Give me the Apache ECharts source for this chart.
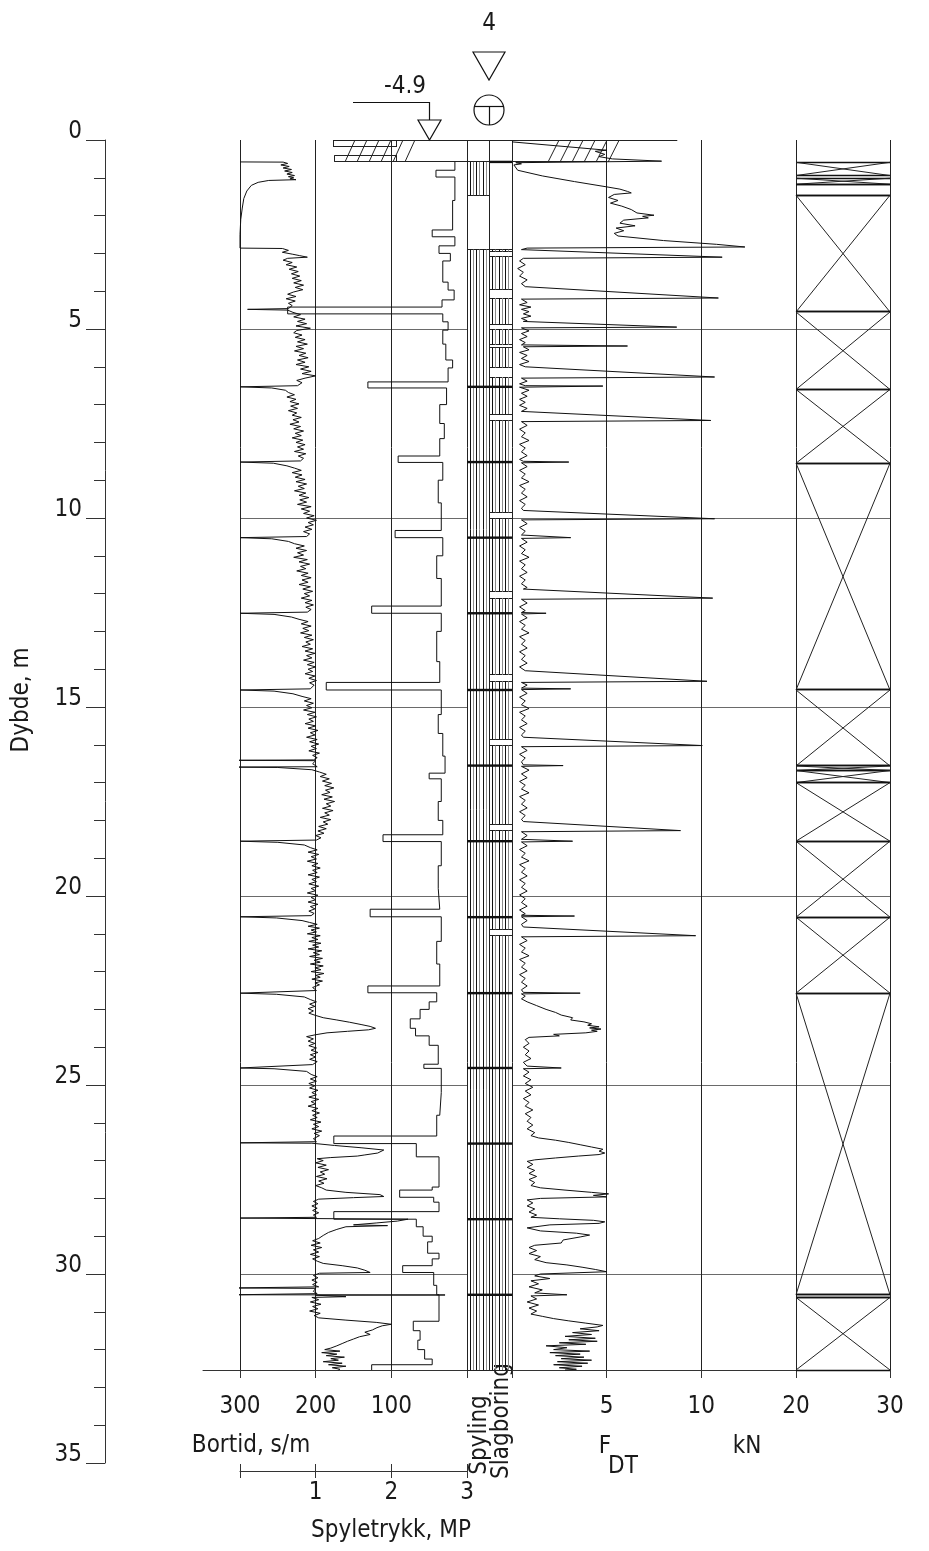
<!DOCTYPE html>
<html><head><meta charset="utf-8">
<script src="https://cdn.jsdelivr.net/npm/echarts@6/dist/echarts.min.js"></script>
<style>html,body{margin:0;padding:0;background:#fff}#c{width:929px;height:1551px}</style>
</head><body><div id="c"></div>
<script>
// ---------------- DATA ----------------
// Bortid (penetration time), pairs [depth m, s/m]
const bortidTrace = [
[0.58,300],[0.585,243],[0.62,237],[0.66,246],[0.7,235],[0.74,243],[0.78,232],[0.82,241],[0.86,231],[0.9,238],[0.94,228],[0.97,236],[1.0,229],[1.03,234],[1.05,226],[1.07,262],[1.12,276],[1.2,285],[1.35,291],[1.55,295],[1.8,297],[2.1,299],[2.5,300],[2.86,300],
[2.87,244],[2.92,236],[2.97,244],[3.02,231],[3.06,221],[3.1,211],[3.13,237],[3.18,243],[3.24,231],[3.3,239],[3.36,225],[3.42,235],[3.48,223],[3.54,232],[3.6,221],[3.66,231],[3.72,219],[3.78,229],[3.84,216],[3.9,227],[3.96,217],[4.02,229],[4.08,237],[4.14,226],[4.2,239],[4.26,227],[4.32,236],[4.38,231],[4.46,236],[4.48,290],[4.5,237],
[4.56,230],[4.62,220],[4.68,229],[4.74,214],[4.8,224],[4.86,212],[4.92,226],[4.98,207],[5.04,225],[5.1,229],[5.16,218],[5.22,227],[5.28,214],[5.34,224],[5.4,211],[5.46,226],[5.52,216],[5.58,228],[5.64,213],[5.7,222],[5.76,210],[5.82,224],[5.88,214],[5.94,226],[6.0,209],[6.06,220],[6.12,206],[6.18,218],[6.24,200],[6.3,214],[6.36,225],[6.42,218],[6.5,224],
[6.53,300],[6.56,258],[6.62,240],
[6.68,236],[6.74,228],[6.8,238],[6.86,226],[6.92,234],[6.98,222],[7.04,233],[7.1,224],[7.16,236],[7.22,225],[7.28,231],[7.34,219],[7.4,230],[7.46,222],[7.52,234],[7.58,220],[7.64,229],[7.7,216],[7.76,227],[7.82,219],[7.88,231],[7.94,217],[8.0,226],[8.06,214],[8.12,224],[8.18,216],[8.24,228],[8.3,213],[8.36,223],[8.42,216],[8.49,220],
[8.52,300],[8.55,256],[8.62,238],
[8.68,228],[8.74,219],[8.8,231],[8.86,218],[8.92,227],[8.98,214],[9.04,226],[9.1,212],[9.16,223],[9.22,215],[9.28,228],[9.34,213],[9.4,222],[9.46,209],[9.52,221],[9.58,212],[9.64,224],[9.7,206],[9.76,219],[9.82,208],[9.88,216],[9.94,202],[10.0,212],[10.06,199],[10.12,210],[10.18,203],[10.24,214],[10.3,205],[10.36,216],[10.42,208],[10.49,212],
[10.52,300],[10.55,258],[10.62,236],
[10.68,228],[10.74,215],[10.8,226],[10.86,212],[10.92,224],[10.98,216],[11.04,229],[11.1,211],[11.16,222],[11.22,208],[11.28,220],[11.34,213],[11.4,225],[11.46,210],[11.52,219],[11.58,206],[11.64,218],[11.7,210],[11.76,222],[11.82,207],[11.88,217],[11.94,204],[12.0,215],[12.06,208],[12.12,219],[12.18,205],[12.24,214],[12.3,203],[12.36,213],[12.42,206],[12.49,211],
[12.52,300],[12.55,255],[12.62,232],
[12.68,222],[12.74,210],[12.8,219],[12.86,206],[12.92,217],[12.98,209],[13.04,220],[13.1,205],[13.16,215],[13.22,203],[13.28,213],[13.34,207],[13.4,218],[13.46,204],[13.52,214],[13.58,201],[13.64,212],[13.7,205],[13.76,216],[13.82,202],[13.88,211],[13.94,200],[14.0,210],[14.06,204],[14.12,214],[14.18,201],[14.24,209],[14.3,199],[14.36,208],[14.42,202],[14.52,207],
[14.55,300],[14.58,255],[14.65,230],
[14.72,218],[14.78,206],[14.84,215],[14.9,203],[14.96,212],[15.02,205],[15.08,216],[15.14,201],[15.2,211],[15.26,199],[15.32,209],[15.38,203],[15.44,214],[15.5,200],[15.56,210],[15.62,197],[15.68,207],[15.74,201],[15.8,212],[15.86,198],[15.92,208],[15.98,196],[16.04,206],[16.1,199],[16.16,209],[16.22,195],[16.28,204],[16.34,198],[16.4,203],
[16.41,310],[16.42,200],[16.5,204],[16.58,198],[16.59,310],[16.6,250],[16.66,205],
[16.72,195],[16.78,186],[16.84,194],[16.9,182],[16.96,191],[17.02,179],[17.08,188],[17.14,176],[17.2,187],[17.26,181],[17.32,192],[17.38,178],[17.44,189],[17.5,175],[17.56,186],[17.62,180],[17.68,191],[17.74,177],[17.8,188],[17.86,182],[17.92,194],[17.98,180],[18.04,190],[18.1,184],[18.16,196],[18.22,186],[18.28,197],[18.34,189],[18.4,200],[18.46,193],[18.52,199],
[18.55,300],[18.58,250],[18.65,215],
[18.72,207],[18.78,198],[18.84,210],[18.9,196],[18.96,206],[19.02,199],[19.08,211],[19.14,197],[19.2,205],[19.26,194],[19.32,204],[19.38,198],[19.44,210],[19.5,195],[19.56,205],[19.62,199],[19.68,209],[19.74,196],[19.8,206],[19.86,200],[19.92,211],[19.98,197],[20.04,206],[20.1,200],[20.16,210],[20.22,197],[20.28,207],[20.34,201],[20.4,209],[20.46,202],[20.52,206],
[20.55,300],[20.58,252],[20.65,218],
[20.7,208],[20.75,198],[20.8,210],[20.85,195],[20.9,206],[20.95,199],[21.0,211],[21.05,194],[21.1,205],[21.15,197],[21.2,209],[21.25,193],[21.3,204],[21.35,196],[21.4,210],[21.45,192],[21.5,203],[21.55,195],[21.6,208],[21.65,191],[21.7,202],[21.75,194],[21.8,207],[21.85,190],[21.9,201],[21.95,193],[22.0,206],[22.05,189],[22.1,200],[22.15,194],[22.2,205],[22.25,191],[22.3,201],[22.35,195],[22.42,204],[22.5,199],
[22.57,300],[22.6,252],[22.67,215],
[22.74,207],[22.8,199],[22.86,208],[22.92,201],[22.98,210],[23.04,203],[23.1,209],[23.16,200],[23.22,190],[23.28,172],[23.34,155],[23.4,140],[23.45,128],[23.5,121],[23.54,130],[23.58,158],[23.62,185],[23.67,200],[23.72,212],[23.78,203],[23.84,210],[23.9,201],[23.96,209],[24.02,199],[24.08,206],[24.14,197],[24.2,207],[24.26,200],[24.32,208],[24.38,198],[24.46,204],
[24.55,300],[24.57,255],[24.64,212],
[24.72,206],[24.78,198],[24.84,207],[24.9,199],[24.96,209],[25.02,201],[25.08,208],[25.14,197],[25.2,205],[25.26,199],[25.32,209],[25.38,196],[25.44,206],[25.5,200],[25.56,210],[25.62,197],[25.68,205],[25.74,195],[25.8,204],[25.86,198],[25.92,207],[25.98,193],[26.04,203],[26.1,196],[26.16,205],[26.22,192],[26.28,202],[26.34,195],[26.42,203],[26.5,199],
[26.53,300],[26.54,205],[26.6,175],[26.66,140],[26.72,110],[26.76,108],[26.8,118],[26.85,135],[26.88,145],[26.92,180],[26.95,198],
[27.0,190],[27.06,200],[27.12,186],[27.18,197],[27.24,183],[27.3,194],[27.36,188],[27.42,199],[27.48,185],[27.54,196],[27.6,189],[27.66,200],[27.72,192],[27.78,186],[27.84,160],[27.9,115],[27.95,110],[27.98,150],[28.02,196],
[28.08,203],[28.14,197],[28.2,205],[28.26,198],[28.32,204],[28.38,196],[28.44,203],[28.5,199],
[28.52,300],[28.55,78],[28.6,92],[28.65,120],[28.7,150],[28.72,105],[28.75,160],[28.82,172],[28.9,183],[28.98,190],[29.06,196],
[29.12,204],[29.18,194],[29.24,206],[29.3,192],[29.36,203],[29.42,196],[29.48,207],[29.54,195],[29.6,204],[29.66,198],[29.72,190],[29.78,165],[29.84,145],[29.9,135],[29.96,128],[29.98,195],
[30.04,203],[30.1,197],[30.16,205],[30.22,198],[30.28,204],[30.34,196],[30.37,310],[30.38,200],[30.46,203],[30.52,198],[30.55,310],[30.555,29],[30.56,200],[30.6,160],[30.62,205],
[30.68,196],[30.74,207],[30.8,193],[30.86,204],[30.92,197],[30.98,208],[31.04,194],[31.1,202],[31.16,196],[31.22,160],[31.28,120],[31.33,100],[31.37,112],[31.42,119],[31.48,125],[31.54,135],[31.6,128],[31.66,142],[31.72,150],[31.78,158],[31.84,165],[31.9,172],[31.96,180],
[32.0,188],[32.04,168],[32.08,192],[32.12,172],[32.16,186],[32.2,162],[32.24,180],[32.28,170],[32.32,190],[32.36,165],[32.4,183],[32.44,160],[32.48,178],[32.52,168],[32.54,170]
];

// Spyletrykk (flushing pressure, MPa): step starts (depth) and values
const spyleDepth = [0.58,0.8,0.98,1.6,2.38,2.56,2.8,3.0,3.2,3.76,3.97,4.23,4.42,4.6,4.81,5.03,5.4,5.82,6.03,6.4,6.56,7.0,7.5,7.9,8.36,8.53,9.0,9.6,10.33,10.52,11.0,11.6,12.33,12.52,13.0,13.8,14.35,14.55,15.2,15.7,16.3,16.75,16.9,17.5,18.0,18.38,18.56,19.2,19.8,20.35,20.55,21.2,21.8,22.38,22.56,22.8,23.0,23.25,23.5,23.7,23.95,24.45,24.56,25.2,25.8,26.35,26.55,26.9,27.7,27.78,27.97,28.1,28.35,28.55,28.75,29.0,29.15,29.45,29.6,29.78,29.96,30.3,30.55,31.25,31.5,31.75,32.0,32.25,32.4];
const spyleValue = [2.84,2.59,2.84,2.81,2.54,2.84,2.63,2.78,2.68,2.75,2.83,2.67,0.63,2.68,2.75,2.68,2.72,2.81,2.75,1.69,2.73,2.64,2.7,2.64,2.09,2.68,2.62,2.66,2.05,2.68,2.6,2.66,1.74,2.66,2.6,2.64,1.14,2.66,2.62,2.68,2.71,2.5,2.66,2.62,2.68,1.89,2.66,2.62,2.64,1.72,2.66,2.6,2.64,1.69,2.6,2.5,2.38,2.25,2.32,2.5,2.62,2.43,2.66,2.64,2.6,1.24,2.33,2.63,2.54,2.11,2.56,2.63,1.24,2.33,2.42,2.54,2.48,2.63,2.54,2.15,2.56,2.6,2.63,2.29,2.38,2.35,2.44,2.54,1.74];

// F_DT (kN), pairs [depth m, kN]
const fdtTrace = [
[0.05,0],[0.27,5.0],[0.3,4.4],[0.34,4.3],[0.38,4.9],[0.44,4.6],[0.5,5.3],[0.56,7.9],[0.58,7.9],[0.6,0.2],[0.63,0.5],[0.66,0.1],[0.8,0.3],[0.95,1.6],[1.1,3.3],[1.24,5.0],[1.3,5.7],[1.36,6.1],[1.4,6.3],[1.44,5.4],[1.52,5.1],[1.6,5.6],[1.67,5.2],[1.75,5.8],[1.84,6.3],[1.93,6.6],[1.99,7.5],[2.02,6.9],[2.06,7.2],[2.12,5.9],[2.2,5.7],[2.27,6.5],[2.33,5.5],[2.4,5.9],[2.47,5.4],[2.54,5.6],[2.66,8.0],[2.76,10.8],[2.83,12.3],[2.86,0.8],
[2.9,0.5],[3.1,11.1],[3.13,0.6],
[3.2,0.4],[3.3,0.7],[3.4,0.3],[3.5,0.6],[3.6,0.4],[3.7,0.8],[3.8,0.5],[3.88,0.7],
[3.9,0.6],[4.18,10.9],[4.21,0.5],
[4.3,0.8],[4.36,0.4],[4.42,1.0],[4.48,0.5],[4.54,0.9],[4.6,0.6],[4.66,1.0],[4.72,0.5],[4.78,0.8],
[4.8,0.6],[4.95,8.7],[4.97,0.5],
[5.05,0.9],[5.12,0.5],[5.2,0.8],[5.28,0.4],[5.36,0.7],[5.42,0.5],[5.45,6.1],[5.47,0.6],[5.55,0.9],[5.62,0.4],[5.7,0.8],[5.78,0.5],[5.86,0.9],[5.94,0.4],[6.0,0.7],
[6.02,0.6],[6.27,10.7],[6.3,0.5],
[6.38,0.8],[6.45,0.4],[6.5,0.7],[6.51,4.8],[6.54,0.4],[6.62,0.9],[6.7,0.5],[6.78,0.8],[6.86,0.4],[6.94,0.7],[7.02,0.4],[7.1,0.8],[7.18,0.5],
[7.2,0.6],[7.42,10.5],[7.45,0.5],
[7.55,0.8],[7.65,0.4],[7.75,0.7],[7.85,0.5],[7.95,0.9],[8.05,0.4],[8.15,0.7],[8.25,0.5],[8.35,0.8],[8.45,0.4],[8.5,0.6],[8.52,3.0],[8.54,0.5],
[8.64,0.8],[8.74,0.4],[8.84,0.7],[8.94,0.5],[9.04,0.9],[9.14,0.4],[9.24,0.7],[9.34,0.5],[9.44,0.8],[9.54,0.4],[9.64,0.7],[9.74,0.5],
[9.8,0.6],[10.02,10.7],[10.05,0.5],
[10.15,0.8],[10.25,0.4],[10.35,0.7],[10.45,0.5],[10.5,0.6],[10.52,3.1],[10.54,0.5],
[10.64,0.8],[10.74,0.4],[10.84,0.7],[10.94,0.5],[11.04,0.9],[11.14,0.4],[11.24,0.7],[11.34,0.5],[11.44,0.8],[11.54,0.4],[11.64,0.7],[11.74,0.5],[11.84,0.8],
[11.88,0.6],[12.12,10.6],[12.15,0.5],
[12.25,0.8],[12.35,0.4],[12.45,0.7],[12.5,0.5],[12.52,1.8],[12.54,0.5],
[12.64,0.8],[12.74,0.4],[12.84,0.7],[12.94,0.5],[13.04,0.9],[13.14,0.4],[13.24,0.7],[13.34,0.5],[13.44,0.8],[13.54,0.4],[13.64,0.7],[13.74,0.5],[13.84,0.8],[13.94,0.4],[14.04,0.7],
[14.08,0.6],[14.32,10.3],[14.35,0.5],
[14.42,0.8],[14.5,0.5],[14.52,3.1],[14.54,0.5],
[14.64,0.8],[14.74,0.4],[14.84,0.7],[14.94,0.5],[15.04,0.9],[15.14,0.4],[15.24,0.7],[15.34,0.5],[15.44,0.8],[15.54,0.4],[15.64,0.7],[15.74,0.5],
[15.8,0.6],[16.02,10.05],[16.05,0.5],
[16.15,0.8],[16.25,0.4],[16.35,0.7],[16.45,0.5],[16.53,0.6],[16.55,2.7],[16.57,0.5],
[16.67,0.9],[16.77,0.5],[16.87,0.8],[16.97,0.4],[17.07,0.7],[17.17,0.5],[17.27,0.9],[17.37,0.4],[17.47,0.7],[17.57,0.5],[17.67,0.8],[17.77,0.4],[17.87,0.7],[17.97,0.5],
[18.03,0.6],[18.27,8.9],[18.3,0.5],
[18.4,0.8],[18.5,0.5],[18.55,3.2],[18.57,0.5],
[18.67,0.8],[18.77,0.4],[18.87,0.7],[18.97,0.5],[19.07,0.9],[19.17,0.4],[19.27,0.7],[19.37,0.5],[19.47,0.8],[19.57,0.4],[19.67,0.7],[19.77,0.5],[19.87,0.8],[19.97,0.4],[20.07,0.7],[20.17,0.5],[20.27,0.8],[20.37,0.4],[20.47,0.7],[20.51,0.5],[20.53,3.3],[20.55,0.5],
[20.65,0.8],[20.75,0.5],
[20.82,0.6],[21.05,9.7],[21.08,0.5],
[21.18,0.8],[21.28,0.4],[21.38,0.7],[21.48,0.5],[21.58,0.9],[21.68,0.4],[21.78,0.7],[21.88,0.5],[21.98,0.8],[22.08,0.4],[22.18,0.7],[22.28,0.5],[22.38,0.8],[22.48,0.5],[22.55,0.6],[22.57,3.6],[22.59,0.5],
[22.65,0.7],[22.72,0.5],[22.8,0.8],[22.9,1.3],[23.0,1.8],[23.08,2.3],[23.15,2.6],[23.22,3.2],[23.28,3.1],[23.33,3.8],[23.38,4.2],[23.42,4.0],[23.46,4.6],[23.49,4.1],[23.52,4.7],[23.55,4.2],[23.58,4.5],[23.62,3.9],[23.66,2.2],[23.7,2.5],[23.74,0.9],[23.8,0.7],[23.9,0.9],[24.0,0.6],[24.1,0.9],[24.2,0.7],[24.3,1.0],[24.4,0.6],[24.5,0.8],[24.55,2.6],[24.57,0.6],
[24.66,0.9],[24.76,0.6],[24.86,1.0],[24.96,0.7],[25.06,1.1],[25.16,0.7],[25.26,1.0],[25.36,0.6],[25.46,0.9],[25.56,0.7],[25.66,1.1],[25.76,0.7],[25.86,1.0],[25.96,0.8],[26.06,1.1],[26.16,0.8],[26.26,1.2],[26.34,1.0],
[26.4,1.4],[26.46,2.3],[26.52,3.0],[26.58,3.6],[26.64,4.2],[26.7,4.8],[26.75,4.6],[26.8,4.9],[26.84,4.6],[26.88,3.5],[26.93,2.3],[26.98,1.2],[27.02,0.8],
[27.1,1.1],[27.18,0.8],[27.26,1.2],[27.34,0.9],[27.42,1.3],[27.5,0.9],[27.58,1.2],[27.66,1.0],[27.72,1.5],[27.78,2.8],[27.84,4.2],[27.88,5.1],[27.92,4.3],[27.96,5.0],[28.0,1.5],[28.04,0.8],
[28.12,1.1],[28.2,0.8],[28.28,1.2],[28.36,0.9],[28.44,1.3],[28.5,1.0],[28.54,2.5],[28.58,4.3],[28.62,4.9],[28.66,4.6],[28.7,2.0],[28.78,0.8],[28.86,1.5],[28.92,3.4],[28.97,4.1],[29.02,3.6],[29.1,2.7],[29.18,2.6],[29.24,1.2],[29.3,0.9],
[29.38,1.3],[29.46,0.9],[29.54,1.5],[29.62,1.2],[29.7,1.8],[29.76,2.9],[29.82,3.7],[29.88,4.4],[29.94,5.0],[29.97,5.1],[30.0,1.5],[30.05,1.2],[30.12,2.0],[30.18,1.0],[30.26,1.4],[30.34,0.9],[30.42,1.6],[30.5,1.2],[30.55,2.9],[30.58,1.0],
[30.66,1.3],[30.74,0.8],[30.82,1.4],[30.9,0.9],[30.98,1.3],[31.06,1.0],[31.12,1.6],[31.18,2.2],[31.24,3.0],[31.3,3.9],[31.36,4.8],[31.4,4.5],[31.45,3.6],[31.5,4.6],[31.55,3.2],[31.6,4.2],[31.65,2.8],[31.7,4.4],[31.74,3.0],[31.78,4.5],[31.82,2.5],[31.86,3.9],[31.9,1.8],[31.95,2.9],[32.0,2.2],[32.04,4.1],[32.08,2.0],[32.12,3.6],[32.16,2.3],[32.2,3.8],[32.24,2.6],[32.28,4.2],[32.32,2.4],[32.36,4.0],[32.4,2.2],[32.44,3.7],[32.48,2.5],[32.52,3.4],[32.54,2.8]
];

// Spyling / Slagboring active intervals [from, to] (m) and rod joints
const spylingOn = [[0.58,1.46],[2.9,32.54]];
const slagOn = [[2.9,2.95],[3.08,3.95],[4.18,4.87],[5.0,5.42],[5.5,6.02],[6.27,7.25],[7.42,9.85],[10.02,11.95],[12.12,14.15],[14.32,15.85],[16.02,18.1],[18.27,20.88],[21.05,32.54]];
const rodJoints = [6.53,8.52,10.52,12.52,14.55,16.55,18.55,20.56,22.57,24.55,26.55,28.55,30.55];

// Right strip intervals [from, to, cross 1/0]
const stripIntervals = [[0.59,0.94,1],[1.01,1.17,1],[1.17,1.46,0],[1.46,4.55,1],[4.55,6.6,1],[6.6,8.55,1],[8.55,14.55,1],[14.55,16.56,1],[16.56,16.68,1],[16.68,17.0,1],[17.0,18.55,1],[18.55,20.56,1],[20.56,22.57,1],[22.57,30.55,1],[30.55,30.62,0],[30.62,32.54,1]];

// Pre-bored hatch zone (0 - 0.58 m): segments [x0, depth0, x1, depth1]
const hatchLeft = [ // x in MPa units
[1.23,0,3.0,0],[1.23,0,1.23,0.185],[1.23,0.185,2.07,0.185],[2.07,0.185,2.07,0],
[1.255,0.4,2.07,0.4],[1.255,0.4,1.255,0.58],[2.07,0.4,2.07,0.58],[1.255,0.58,3.0,0.58],
[1.388,0.58,1.52,0],[1.546,0.58,1.678,0],[1.705,0.58,1.837,0],[1.863,0.58,1.995,0],[2.022,0.58,2.154,0],[2.18,0.58,2.312,0]
];
const hatchRight = [ // x in kN units
[0,0,8.73,0],[0,0.58,5.0,0.58],
[1.905,0.58,2.487,0],[2.54,0.58,3.122,0],[3.175,0.58,3.757,0],[3.81,0.58,4.392,0],[4.44,0.58,5.022,0],[5.08,0.58,5.662,0]
];

const depthTicks = {min:0, max:35, interval:5};
const bortidTicks = {min:0, max:300, interval:100};
const spyleTicks = {min:0, max:3, interval:1};
const fdtTicks = {min:0, max:15, interval:5};
const stripTicks = {min:20, max:30, interval:10};
const bortidGridValues = [300,200,100];
const fdtGridValues = [5,10];
const stripGridValues = [20,30];

// ---------------- LAYOUT ----------------
const FONT = "'DejaVu Sans Condensed','DejaVu Sans',sans-serif";
const TXT = '#1a1a1a';
const PXM = 37.8, TOP = 140, END = 32.54;
const DATA_H = END * PXM;
const crisp = v => Math.round(v - 0.5) + 0.5;

function lineEl(x1,y1,x2,y2,c,w){
  if (Math.abs(x1-x2) < 0.01 && w <= 1.3) { x1 = x2 = crisp(x1); }
  if (Math.abs(y1-y2) < 0.01 && w <= 1.3) { y1 = y2 = crisp(y1); }
  return {type:'line', shape:{x1,y1,x2,y2}, style:{stroke:c, lineWidth:w}};
}

function renderSegments(params, api){
  const a = api.coord([api.value(0), api.value(1)]);
  const b = api.coord([api.value(2), api.value(3)]);
  return lineEl(a[0],a[1],b[0],b[1],'#222',1);
}

function renderVGrid(params, api){
  const a = api.coord([api.value(0), 0]);
  const b = api.coord([api.value(0), END]);
  return lineEl(a[0],a[1],b[0],b[1],'#222',1);
}

function renderColumns(params, api){
  const col = api.value(0), d0 = api.value(1), d1 = api.value(2), kind = api.value(3);
  const a = api.coord([col, d0]), b = api.coord([col+1, d1]);
  const x0=a[0], x1=b[0], y0=a[1], y1=b[1];
  const ch = [];
  if (kind === 2) { ch.push(lineEl(x0,y0,x0,y1,'#222',1), lineEl(x1,y0,x1,y1,'#222',1)); }
  else if (kind === 0) {
    ch.push(lineEl(x0,y0,x1,y0,'#222',1), lineEl(x0,y1,x1,y1,'#222',1));
    const n = 7;
    for (let i=1;i<n;i++){ const x = x0+(x1-x0)*i/n; ch.push(lineEl(x,y0,x,y1, i%2 ? '#111' : '#8c8c8c', 1)); }
  }
  else if (kind === 1) { ch.push(lineEl(x0,y0,x1,y0,'#111',2.4)); }
  else { ch.push(lineEl(x0,y0,x1,y0,'#222',1)); }
  return {type:'group', children: ch};
}

function renderStrip(params, api){
  const d0 = api.value(0), d1 = api.value(1), cross = api.value(2);
  const a = api.coord([stripTicks.min, d0]), b = api.coord([stripTicks.max, d1]);
  const ch = [lineEl(a[0],a[1],b[0],a[1],'#111',1.3), lineEl(a[0],b[1],b[0],b[1],'#111',1.3)];
  if (cross) { ch.push(lineEl(a[0],a[1],b[0],b[1],'#222',1), lineEl(b[0],a[1],a[0],b[1],'#222',1)); }
  return {type:'group', children: ch};
}

// build derived series data
const bortidData = bortidTrace.map(p => [p[1], p[0]]);
const fdtData = fdtTrace.map(p => [p[1], p[0]]);
const spyleData = [];
spyleDepth.forEach((d,i) => {
  const next = i+1 < spyleDepth.length ? spyleDepth[i+1] : END;
  spyleData.push([spyleValue[i], d], [spyleValue[i], next]);
});
const colItems = [[0,0,END,2],[1,0,END,2],[0,0,0,3],[1,0,0,3],[1,0.58,0.58,1]];
spylingOn.forEach(([a,b]) => colItems.push([0,a,b,0]));
slagOn.forEach(([a,b]) => colItems.push([1,a,b,0]));
rodJoints.forEach(d => { colItems.push([0,d,d,1]); colItems.push([1,d,d,1]); });

const labelStyle = {fontSize:24, fontFamily:FONT, color:TXT};
const axisCol = '#333';

function dataY(gi, split){
  return {gridIndex:gi, type:'value', inverse:true, min:0, max:END, interval:5,
    axisLine:{show:false}, axisTick:{show:false}, axisLabel:{show:false},
    splitLine:{show:split, showMinLine:false, showMaxLine:false, lineStyle:{color:'#6a6a6a', width:1}}};
}
function gridDef(left, width, height){
  return {left, top:TOP, width, height, containLabel:false, outerBoundsMode:'none'};
}
function xBottom(extra){
  return Object.assign({type:'value', position:'bottom', splitLine:{show:false}}, extra);
}

const option = {
  animation:false,
  backgroundColor:'#fff',
  textStyle:{fontFamily:FONT},
  grid:[
    gridDef(105, 1, depthTicks.max*PXM),
    gridDef(240, 227, DATA_H),
    gridDef(467, 45, DATA_H),
    gridDef(512, 284, DATA_H),
    gridDef(796, 94, DATA_H),
    gridDef(203, 37, DATA_H)
  ],
  xAxis:[
    {gridIndex:0, type:'value', show:false, min:0, max:1},
    xBottom({gridIndex:1, inverse:true, ...bortidTicks,
      axisLine:{show:true, onZero:false, lineStyle:{color:axisCol}}, axisTick:{show:true, length:8, lineStyle:{color:axisCol}},
      axisLabel:{...labelStyle, margin:25, showMinLabel:true, showMaxLabel:true, formatter:v => v===0 ? '' : String(v)}}),
    xBottom({gridIndex:1, offset:101, ...spyleTicks,
      axisLine:{show:true, onZero:false, lineStyle:{color:axisCol}}, axisTick:{show:true, length:7, lineStyle:{color:axisCol}},
      axisLabel:{...labelStyle, margin:10, showMinLabel:true, showMaxLabel:true, formatter:v => v===0 ? '' : String(v)}}),
    xBottom({gridIndex:1, offset:101, ...spyleTicks,
      axisLine:{show:false, onZero:false}, axisTick:{show:true, inside:true, length:7, lineStyle:{color:axisCol}},
      axisLabel:{show:false}}),
    xBottom({gridIndex:2, min:0, max:2,
      axisLine:{show:true, onZero:false, lineStyle:{color:axisCol}}, axisTick:{show:false}, axisLabel:{show:false}}),
    xBottom({gridIndex:3, ...fdtTicks,
      axisLine:{show:true, onZero:false, lineStyle:{color:axisCol}}, axisTick:{show:true, length:8, lineStyle:{color:axisCol}},
      axisLabel:{...labelStyle, margin:25, showMinLabel:true, showMaxLabel:true, formatter:v => (v===0||v===15) ? '' : String(v)}}),
    xBottom({gridIndex:4, ...stripTicks,
      axisLine:{show:true, onZero:false, lineStyle:{color:axisCol}}, axisTick:{show:true, length:8, lineStyle:{color:axisCol}},
      axisLabel:{...labelStyle, margin:25, showMinLabel:true, showMaxLabel:true}}),
    xBottom({gridIndex:5, min:0, max:1,
      axisLine:{show:true, onZero:false, lineStyle:{color:axisCol}}, axisTick:{show:false}, axisLabel:{show:false}})
  ],
  yAxis:[
    {gridIndex:0, type:'value', inverse:true, position:'left', ...depthTicks,
      axisLine:{show:true, onZero:false, lineStyle:{color:axisCol}},
      axisTick:{show:true, length:19, lineStyle:{color:axisCol}},
      minorTick:{show:true, splitNumber:5, length:11, lineStyle:{color:axisCol}},
      axisLabel:{...labelStyle, margin:23, verticalAlign:'bottom', lineHeight:16, showMinLabel:true, showMaxLabel:true},
      splitLine:{show:false}},
    dataY(1,true), dataY(2,false), dataY(3,true), dataY(4,true), dataY(5,false)
  ],
  graphic:[
    {type:'text', x:22, y:700, rotation:Math.PI/2, style:{text:'Dybde, m', fontSize:24, fontFamily:FONT, fill:TXT, align:'center', verticalAlign:'middle'}},
    {type:'text', x:489, y:24, style:{text:'4', fontSize:24, fontFamily:FONT, fill:TXT, align:'center', verticalAlign:'middle'}},
    {type:'polygon', shape:{points:[[473,52],[505,52],[489,80]]}, style:{fill:'none', stroke:'#111', lineWidth:1.2}},
    {type:'circle', shape:{cx:489, cy:110, r:15}, style:{fill:'none', stroke:'#111', lineWidth:1.2}},
    {type:'line', shape:{x1:474.3, y1:106.5, x2:503.7, y2:106.5}, style:{stroke:'#111', lineWidth:1.2}},
    {type:'line', shape:{x1:489.5, y1:106.5, x2:489.5, y2:125}, style:{stroke:'#111', lineWidth:1.2}},
    {type:'text', x:405, y:87, style:{text:'-4.9', fontSize:24, fontFamily:FONT, fill:TXT, align:'center', verticalAlign:'middle'}},
    {type:'polyline', shape:{points:[[353,102.5],[429.5,102.5],[429.5,120]]}, style:{fill:'none', stroke:'#111', lineWidth:1.2}},
    {type:'polygon', shape:{points:[[418,120],[441,120],[429.5,140]]}, style:{fill:'none', stroke:'#111', lineWidth:1.2}},
    {type:'text', x:251, y:1446, style:{text:'Bortid, s/m', fontSize:24, fontFamily:FONT, fill:TXT, align:'center', verticalAlign:'middle'}},
    {type:'text', x:391, y:1531, style:{text:'Spyletrykk, MP', fontSize:24, fontFamily:FONT, fill:TXT, align:'center', verticalAlign:'middle'}},
    {type:'text', x:480, y:1435, rotation:Math.PI/2, style:{text:'Spyling', fontSize:24, fontFamily:FONT, fill:TXT, align:'center', verticalAlign:'middle'}},
    {type:'text', x:502, y:1421, rotation:Math.PI/2, style:{text:'Slagboring', fontSize:24, fontFamily:FONT, fill:TXT, align:'center', verticalAlign:'middle'}},
    {type:'text', x:605, y:1447, style:{text:'F', fontSize:24, fontFamily:FONT, fill:TXT, align:'center', verticalAlign:'middle'}},
    {type:'text', x:623, y:1467, style:{text:'DT', fontSize:24, fontFamily:FONT, fill:TXT, align:'center', verticalAlign:'middle'}},
    {type:'text', x:747, y:1447, style:{text:'kN', fontSize:24, fontFamily:FONT, fill:TXT, align:'center', verticalAlign:'middle'}}
  ],
  series:[
    {type:'custom', name:'gridBortid', xAxisIndex:1, yAxisIndex:1, coordinateSystem:'cartesian2d', clip:false,
      renderItem:renderVGrid, encode:{x:0}, data:bortidGridValues.map(v=>[v]), silent:true},
    {type:'custom', name:'gridFdt', xAxisIndex:5, yAxisIndex:3, coordinateSystem:'cartesian2d', clip:false,
      renderItem:renderVGrid, encode:{x:0}, data:fdtGridValues.map(v=>[v]), silent:true},
    {type:'custom', name:'gridStrip', xAxisIndex:6, yAxisIndex:4, coordinateSystem:'cartesian2d', clip:false,
      renderItem:renderVGrid, encode:{x:0}, data:stripGridValues.map(v=>[v]), silent:true},
    {type:'custom', name:'hatchLeft', xAxisIndex:2, yAxisIndex:1, coordinateSystem:'cartesian2d', clip:false,
      renderItem:renderSegments, encode:{x:[0,2], y:[1,3]}, data:hatchLeft, silent:true},
    {type:'line', name:'Spyletrykk', xAxisIndex:2, yAxisIndex:1, data:spyleData, showSymbol:false, symbol:'none',
      lineStyle:{color:'#111', width:1}, clip:false, silent:true},
    {type:'line', name:'Bortid', xAxisIndex:1, yAxisIndex:1, data:bortidData, showSymbol:false, symbol:'none',
      lineStyle:{color:'#111', width:1}, clip:false, silent:true},
    {type:'custom', name:'Kolonner', xAxisIndex:4, yAxisIndex:2, coordinateSystem:'cartesian2d', clip:false,
      renderItem:renderColumns, encode:{x:0, y:[1,2]}, data:colItems, silent:true},
    {type:'custom', name:'hatchRight', xAxisIndex:5, yAxisIndex:3, coordinateSystem:'cartesian2d', clip:false,
      renderItem:renderSegments, encode:{x:[0,2], y:[1,3]}, data:hatchRight, silent:true},
    {type:'line', name:'F_DT', xAxisIndex:5, yAxisIndex:3, data:fdtData, showSymbol:false, symbol:'none',
      lineStyle:{color:'#111', width:1}, clip:false, silent:true},
    {type:'custom', name:'Strip', xAxisIndex:6, yAxisIndex:4, coordinateSystem:'cartesian2d', clip:false,
      renderItem:renderStrip, encode:{y:[0,1]}, data:stripIntervals, silent:true}
  ]
};

const chart = echarts.init(document.getElementById('c'), null, {renderer:'canvas', width:929, height:1551});
chart.setOption(option);
</script>
</body></html>
